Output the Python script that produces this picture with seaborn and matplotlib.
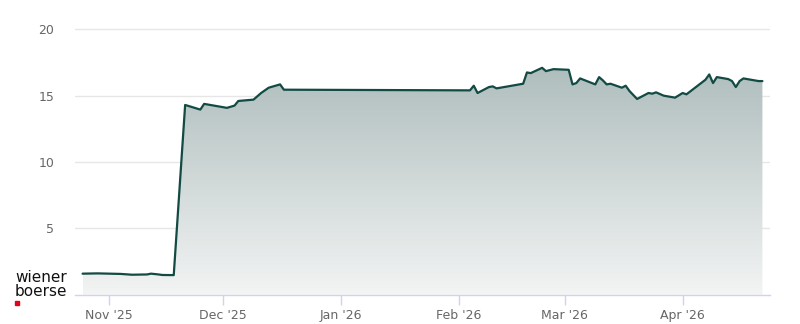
import numpy as np
import pandas as pd
import matplotlib
matplotlib.use("Agg")
import matplotlib.pyplot as plt
import matplotlib.dates as mdates
import seaborn as sns
from matplotlib.colors import LinearSegmentedColormap

dates = [
    "2025-10-25", "2025-10-29", "2025-11-04", "2025-11-07", "2025-11-11", "2025-11-12",
    "2025-11-14", "2025-11-15", "2025-11-18", "2025-11-21", "2025-11-25", "2025-11-26",
    "2025-12-02", "2025-12-04", "2025-12-05", "2025-12-09", "2025-12-11", "2025-12-13",
    "2025-12-16", "2025-12-17", "2026-02-04", "2026-02-05", "2026-02-06", "2026-02-09",
    "2026-02-10", "2026-02-11", "2026-02-18", "2026-02-19", "2026-02-20", "2026-02-23",
    "2026-02-24", "2026-02-26", "2026-03-02", "2026-03-03", "2026-03-04", "2026-03-05",
    "2026-03-09", "2026-03-10", "2026-03-11", "2026-03-12", "2026-03-13", "2026-03-16",
    "2026-03-17", "2026-03-18", "2026-03-20", "2026-03-23", "2026-03-24", "2026-03-25",
    "2026-03-27", "2026-03-30", "2026-04-01", "2026-04-02", "2026-04-07", "2026-04-08",
    "2026-04-09", "2026-04-10", "2026-04-13", "2026-04-14", "2026-04-15", "2026-04-16",
    "2026-04-17", "2026-04-21", "2026-04-22",
]
prices = [
    1.58, 1.60, 1.56, 1.50, 1.52, 1.58,
    1.52, 1.48, 1.47, 14.30, 13.95, 14.38,
    14.08, 14.25, 14.60, 14.70, 15.20, 15.60,
    15.85, 15.45, 15.40, 15.75, 15.20, 15.65,
    15.70, 15.55, 15.90, 16.75, 16.70, 17.10,
    16.85, 17.00, 16.95, 15.85, 15.95, 16.30,
    15.85, 16.40, 16.15, 15.85, 15.90, 15.60,
    15.75, 15.35, 14.75, 15.20, 15.15, 15.25,
    15.00, 14.85, 15.20, 15.10, 16.20, 16.60,
    15.95, 16.40, 16.25, 16.10, 15.65, 16.10,
    16.30, 16.10, 16.10,
]
y_ticks = [5, 10, 15, 20]
x_tick_dates = ["2025-11-01", "2025-12-01", "2026-01-01", "2026-02-01", "2026-03-01", "2026-04-01"]
x_tick_labels = ["Nov '25", "Dec '25", "Jan '26", "Feb '26", "Mar '26", "Apr '26"]

df = pd.DataFrame({"date": pd.to_datetime(dates), "price": prices})

sns.set_theme(style="white")
plt.rcParams["font.family"] = ["DejaVu Sans"]

fig = plt.figure(figsize=(8.0, 3.24), dpi=100)
ax = fig.add_axes([0.09375, 0.0907, 0.86875, 0.831])

x0 = pd.Timestamp("2025-10-23")
x1 = pd.Timestamp("2026-04-24")
ymax = 20.3
ax.set_xlim(x0, x1)
ax.set_ylim(0, ymax)

# gradient fill under the line
xn = mdates.date2num(df["date"])
poly = ax.fill_between(df["date"], df["price"], 0, color="none", lw=0)
cmap = LinearSegmentedColormap.from_list("g", ["#f3f4f4", "#afbebd"])
top = max(prices)
grad = np.linspace(0, 1, 256).reshape(-1, 1)
im = ax.imshow(grad, cmap=cmap, aspect="auto", origin="lower",
               extent=[xn.min(), xn.max(), 0, top], zorder=1)
path = poly.get_paths()[0]
im.set_clip_path(path, transform=ax.transData)

sns.lineplot(data=df, x="date", y="price", ax=ax, color="#124a44", linewidth=1.6, zorder=3)

ax.set_yticks(y_ticks)
ax.set_yticklabels([str(v) for v in y_ticks])
ax.set_xticks(pd.to_datetime(x_tick_dates))
ax.set_xticklabels(x_tick_labels)
ax.grid(axis="y", color="#e6e6e6", linewidth=1)
ax.grid(axis="x", visible=False)
ax.set_axisbelow(True)
ax.set_xlabel("")
ax.set_ylabel("")
for s in ["top", "right", "left"]:
    ax.spines[s].set_visible(False)
ax.spines["bottom"].set_color("#ccd6eb")
ax.spines["bottom"].set_linewidth(1)
ax.tick_params(axis="y", length=0, pad=15, labelsize=9, labelcolor="#666666")
ax.tick_params(axis="x", length=7, width=1, color="#ccd6eb", pad=3, labelsize=9,
               labelcolor="#666666", bottom=True)

# logo
fig.text(15 / 800, 1 - 277 / 324, "wiener", fontsize=11, color="#111111", va="center", ha="left",
         fontweight="medium")
fig.text(15 / 800, 1 - 292 / 324, "boerse", fontsize=11, color="#111111", va="center", ha="left",
         fontweight="medium")
fig.patches.append(plt.Rectangle((15 / 800, 1 - 305 / 324), 4 / 800, 4 / 324,
                                 transform=fig.transFigure, color="#e2001a"))

fig.savefig("out.png", dpi=100)
